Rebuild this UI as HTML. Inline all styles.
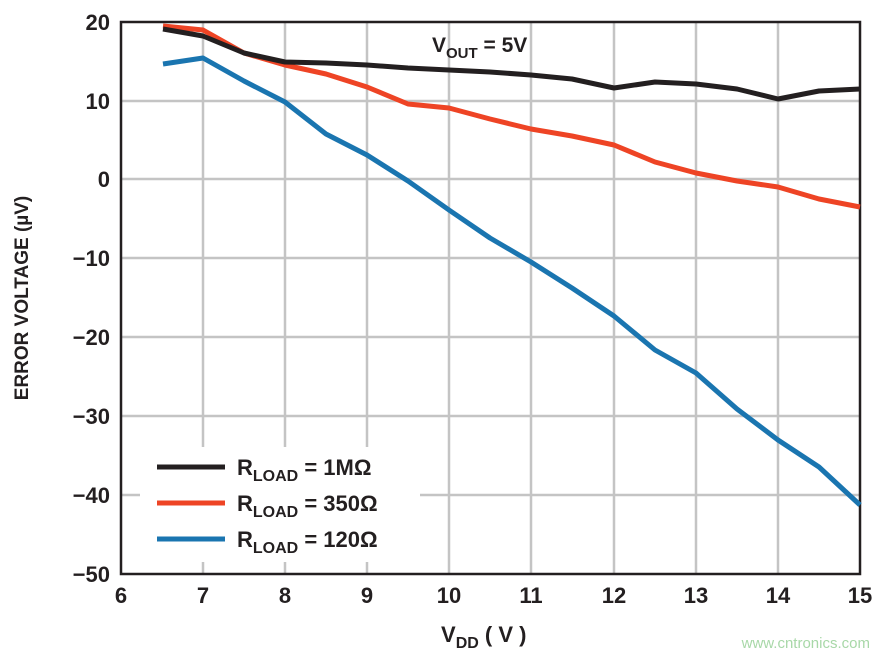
<!DOCTYPE html>
<html><head><meta charset="utf-8"><style>
body{margin:0;background:#fff;width:891px;height:658px;overflow:hidden}
text{font-family:"Liberation Sans",sans-serif;font-weight:bold;fill:#231f20}
</style></head><body>
<svg width="891" height="658" viewBox="0 0 891 658">
<g stroke="#c4c4c4" stroke-width="2.5">
<line x1="203" y1="22" x2="203" y2="574"/><line x1="285" y1="22" x2="285" y2="574"/><line x1="367" y1="22" x2="367" y2="574"/><line x1="449" y1="22" x2="449" y2="574"/><line x1="531" y1="22" x2="531" y2="574"/><line x1="614" y1="22" x2="614" y2="574"/><line x1="696" y1="22" x2="696" y2="574"/><line x1="778" y1="22" x2="778" y2="574"/>
<line x1="121" y1="101" x2="860" y2="101"/><line x1="121" y1="179" x2="860" y2="179"/><line x1="121" y1="258" x2="860" y2="258"/><line x1="121" y1="337" x2="860" y2="337"/><line x1="121" y1="416" x2="860" y2="416"/><line x1="121" y1="495" x2="860" y2="495"/>
</g>
<rect x="140" y="447" width="280" height="115" fill="#fff"/>
<rect x="121" y="22" width="739" height="552" fill="none" stroke="#231f20" stroke-width="2.5"/>
<g fill="none" stroke-width="5" stroke-linejoin="round">
<polyline stroke="#1a75b0" points="163,64 203,58 244,81 285,102 326,134 367,155 408,181 449,210 490,238 531,262 572,288 614,316 655,350 696,373 737,409 778,440 819,467 860,505"/>
<polyline stroke="#ee4425" points="163,26 203,30 244,53 285,65 326,74 367,87 408,104 449,108 490,119 531,129 572,136 614,145 655,162 696,173 737,181 778,187 819,199 860,207"/>
<polyline stroke="#231f20" points="163,29 203,36 244,53 285,62 326,63 367,65 408,68 449,70 490,72 531,75 572,79 614,88 655,82 696,84 737,89 778,99 819,91 860,89"/>
</g>
<g stroke-width="5">
<line x1="157" y1="467" x2="225" y2="467" stroke="#231f20"/>
<line x1="157" y1="503" x2="225" y2="503" stroke="#ee4425"/>
<line x1="157" y1="539" x2="225" y2="539" stroke="#1a75b0"/>
</g>
<g font-size="22">
<text x="237" y="475">R<tspan font-size="16" dy="6">LOAD</tspan><tspan dy="-6"> = 1MΩ</tspan></text>
<text x="237" y="511">R<tspan font-size="16" dy="6">LOAD</tspan><tspan dy="-6"> = 350Ω</tspan></text>
<text x="237" y="547">R<tspan font-size="16" dy="6">LOAD</tspan><tspan dy="-6"> = 120Ω</tspan></text>
<text x="432" y="52" font-size="21">V<tspan font-size="15" dy="6">OUT</tspan><tspan dy="-6"> = 5V</tspan></text>
</g>
<g font-size="22" text-anchor="end">
<text x="110" y="30">20</text><text x="110" y="109">10</text><text x="110" y="187">0</text><text x="110" y="266">−10</text><text x="110" y="345">−20</text><text x="110" y="424">−30</text><text x="110" y="503">−40</text><text x="110" y="582">−50</text>
</g>
<g font-size="22" text-anchor="middle">
<text x="121" y="603">6</text><text x="203" y="603">7</text><text x="285" y="603">8</text><text x="367" y="603">9</text><text x="449" y="603">10</text><text x="531" y="603">11</text><text x="614" y="603">12</text><text x="696" y="603">13</text><text x="778" y="603">14</text><text x="860" y="603">15</text>
</g>
<text x="441" y="642" font-size="22">V<tspan font-size="16" dy="6">DD</tspan><tspan dy="-6"> ( V )</tspan></text>
<text transform="translate(28,298) rotate(-90)" font-size="19" text-anchor="middle">ERROR VOLTAGE (µV)</text>
<text x="870" y="648" font-size="15" text-anchor="end" style="font-weight:normal;fill:#a8d8a8">www.cntronics.com</text>
</svg>
</body></html>
